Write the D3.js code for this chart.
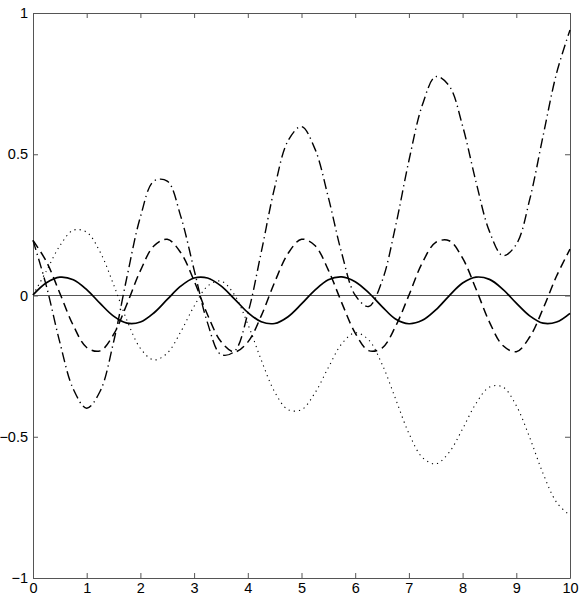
<!DOCTYPE html>
<html>
<head>
<meta charset="utf-8">
<script src="https://cdn.jsdelivr.net/npm/d3@7"></script>
<style>
  body { margin: 0; background: #fff; }
  svg { display: block; }
  text { font-family: "Liberation Sans", Arial, sans-serif; font-size: 14.5px; fill: #000; }
</style>
</head>
<body>
<div id="chart"></div>
<script>
var xs = d3.range(0, 10.001, 0.25);

var solid = [0.002, 0.045, 0.065, 0.056, 0.021, -0.028, -0.073, -0.098, -0.094, -0.062,
  -0.014, 0.033, 0.062, 0.062, 0.034, -0.012, -0.060, -0.093, -0.099, -0.075,
  -0.030, 0.019, 0.056, 0.066, 0.049, 0.010, -0.039, -0.083, -0.100, -0.088,
  -0.051, -0.001, 0.044, 0.065, 0.057, 0.022, -0.027, -0.072, -0.098, -0.094, -0.063];

var dashed = [0.195, 0.120, 0.008, -0.106, -0.184, -0.196, -0.138, -0.030, 0.088, 0.175,
  0.199, 0.152, 0.052, -0.068, -0.163, -0.200, -0.165, -0.072, 0.047, 0.149,
  0.199, 0.177, 0.090, -0.026, -0.133, -0.195, -0.186, -0.110, 0.001, 0.116,
  0.188, 0.194, 0.132, 0.023, -0.094, -0.177, -0.199, -0.147, -0.046, 0.069, 0.164];

var dashdot = [0.195, 0.033, -0.166, -0.331, -0.399, -0.339, -0.165, 0.066, 0.278, 0.405,
  0.405, 0.281, 0.091, -0.097, -0.209, -0.198, -0.064, 0.153, 0.382, 0.548,
  0.598, 0.519, 0.347, 0.149, 0.001, -0.039, 0.051, 0.244, 0.477, 0.674,
  0.775, 0.742, 0.600, 0.402, 0.227, 0.141, 0.181, 0.340, 0.566, 0.787, 0.940];

var dotted = [0.002, 0.087, 0.176, 0.231, 0.224, 0.154, 0.039, -0.088, -0.187, -0.228,
  -0.204, -0.129, -0.038, 0.033, 0.051, 0.003, -0.101, -0.228, -0.341, -0.404,
  -0.404, -0.345, -0.255, -0.171, -0.132, -0.157, -0.243, -0.365, -0.488, -0.573,
  -0.596, -0.555, -0.472, -0.382, -0.324, -0.324, -0.390, -0.503, -0.631, -0.732, -0.779];

var xTicks = [0, 1, 2, 3, 4, 5, 6, 7, 8, 9, 10];
var yTicks = [-1, -0.5, 0, 0.5, 1];

var width = 584, height = 597;
var margin = { top: 13, right: 14, bottom: 19, left: 33 };
var w = width - margin.left - margin.right;
var h = height - margin.top - margin.bottom;

var x = d3.scaleLinear().domain([0, 10]).range([0, w]);
var y = d3.scaleLinear().domain([-1, 1]).range([h, 0]);

var svg = d3.select("#chart")
  .append("svg")
  .attr("width", width)
  .attr("height", height);

var g = svg.append("g")
  .attr("transform", "translate(" + margin.left + "," + margin.top + ")");

var fmt = function (d) { return d3.format("")(d).replace("-", "\u2212"); };
var axisColor = "#555";

// bottom/left axes carry labels, top/right only ticks; all ticks point inward
var axBottom = g.append("g").attr("transform", "translate(0," + h + ")")
  .call(d3.axisBottom(x).tickValues(xTicks).tickSizeInner(-5).tickSizeOuter(0).tickPadding(5).tickFormat(fmt));
var axLeft = g.append("g")
  .call(d3.axisLeft(y).tickValues(yTicks).tickSizeInner(-5).tickSizeOuter(0).tickPadding(5).tickFormat(fmt));
var axTop = g.append("g")
  .call(d3.axisTop(x).tickValues(xTicks).tickSizeInner(-5).tickSizeOuter(0).tickFormat(""));
var axRight = g.append("g").attr("transform", "translate(" + w + ",0)")
  .call(d3.axisRight(y).tickValues(yTicks).tickSizeInner(-5).tickSizeOuter(0).tickFormat(""));

[axBottom, axLeft, axTop, axRight].forEach(function (a) {
  a.select(".domain").attr("stroke", axisColor).attr("stroke-width", 1);
  a.selectAll(".tick line").attr("stroke", axisColor);
  a.attr("font-family", null).attr("font-size", null);
});

// zero line
g.append("line")
  .attr("x1", x(0)).attr("x2", x(10))
  .attr("y1", y(0)).attr("y2", y(0))
  .attr("stroke", axisColor)
  .attr("stroke-width", 1);

var line = d3.line()
  .x(function (d) { return x(d[0]); })
  .y(function (d) { return y(d[1]); })
  .curve(d3.curveCatmullRom);

var series = [
  { values: dotted, dash: "1.2,4", sw: 1.1 },
  { values: dashdot, dash: "10,4,1.3,4", sw: 1.4 },
  { values: dashed, dash: "9,5", sw: 1.5 },
  { values: solid, dash: null, sw: 1.7 }
];

g.selectAll(".curve")
  .data(series)
  .enter()
  .append("path")
  .attr("class", "curve")
  .attr("d", function (s) { return line(s.values.map(function (v, i) { return [xs[i], v]; })); })
  .attr("fill", "none")
  .attr("stroke", "#000")
  .attr("stroke-width", function (s) { return s.sw; })
  .attr("stroke-dasharray", function (s) { return s.dash; });
</script>
</body>
</html>
